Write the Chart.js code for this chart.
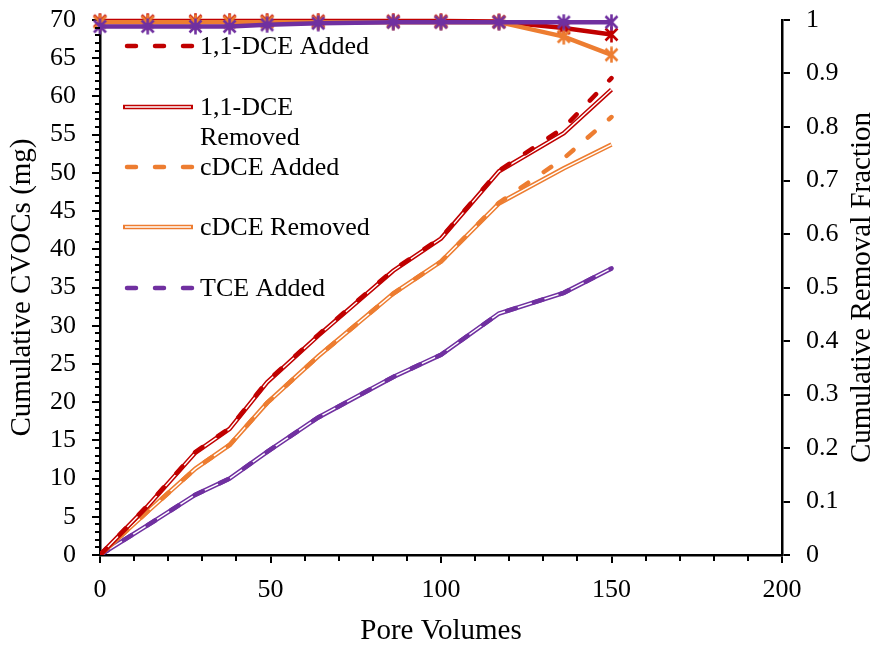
<!DOCTYPE html>
<html>
<head>
<meta charset="utf-8">
<script src="https://cdn.jsdelivr.net/npm/chart.js@4.4.0/dist/chart.umd.min.js"></script>
<style>
  html, body { margin: 0; padding: 0; background: #fff; }
  #wrap { width: 881px; height: 646px; position: relative; }
</style>
</head>
<body>
<div id="wrap"><canvas id="chart"></canvas></div>
<script>
// --- Data ---
const poreVolumes   = [0, 14, 28, 38, 49, 64, 86, 100, 117, 136, 150];
const dce11Added    = [0, 6.5, 13.5, 16.6, 22.7, 28.8, 37.3, 41.5, 50.3, 55.9, 62.4];
const dce11Removed  = [0, 6.4, 13.4, 16.5, 22.6, 28.7, 37.2, 41.4, 50.2, 55.2, 60.9];
const cdceAdded     = [0, 5.7, 11.3, 14.4, 19.9, 26.0, 34.2, 38.4, 46.1, 51.9, 57.3];
const cdceRemoved   = [0, 5.7, 11.3, 14.4, 19.9, 26.0, 34.2, 38.4, 46.0, 50.6, 53.7];
const tceAdded      = [0, 3.9, 7.9, 10.0, 13.5, 18.0, 23.3, 26.2, 31.6, 34.3, 37.5];
const tceRemoved    = [0, 3.9, 7.9, 10.0, 13.5, 18.0, 23.3, 26.2, 31.6, 34.3, 37.5];
const dce11Fraction = [0.998, 0.998, 0.998, 0.998, 0.998, 0.998, 0.998, 0.998, 0.997, 0.985, 0.973];
const cdceFraction  = [0.996, 0.996, 0.996, 0.996, 0.996, 0.996, 0.996, 0.996, 0.996, 0.969, 0.935];
const tceFraction   = [0.988, 0.988, 0.988, 0.988, 0.991, 0.994, 0.996, 0.996, 0.996, 0.996, 0.996];

const legendLabels = ['1,1-DCE Added', ['1,1-DCE', 'Removed'], 'cDCE Added', 'cDCE Removed', 'TCE Added'];

const RED = '#C00000', ORANGE = '#ED7D31', PURPLE = '#7030A0';
const SERIF = '"Liberation Serif", "Times New Roman", serif';
const DASH = [9, 19];

const pts = ys => poreVolumes.map((x, i) => ({ x, y: ys[i] }));

// Excel style asterisk marker
function star(color) {
    const c = document.createElement('canvas');
    c.width = 17; c.height = 17;
    const g = c.getContext('2d');
    g.strokeStyle = color; g.lineWidth = 2.6;
    g.beginPath();
    g.moveTo(2.5, 2.5); g.lineTo(14.5, 14.5);
    g.moveTo(14.5, 2.5); g.lineTo(2.5, 14.5);
    g.moveTo(8.5, 0.5); g.lineTo(8.5, 16.5);
    g.stroke();
    return c;
}

function dashed(label, ys, color, order) {
    return { label, data: pts(ys), yAxisID: 'y', borderColor: color, borderWidth: 4.5,
             borderDash: DASH, borderCapStyle: 'round', pointRadius: 0, order };
}
function doubleLine(label, ys, color, order) {
    return [
        { label, data: pts(ys), yAxisID: 'y', borderColor: color, borderWidth: 4.5, pointRadius: 0, order: order + 1 },
        { label: label + ' core', data: pts(ys), yAxisID: 'y', borderColor: '#fff', borderWidth: 1.4, pointRadius: 0, order }
    ];
}
function fraction(label, ys, color, order) {
    return { label, data: pts(ys), yAxisID: 'y2', borderColor: color, backgroundColor: color,
             borderWidth: 4.5, pointStyle: star(color), pointRadius: 8, clip: false, order };
}

// lower order is drawn on top
const datasets = [
    fraction('TCE Fraction', tceFraction, PURPLE, 0),
    fraction('cDCE Fraction', cdceFraction, ORANGE, 1),
    fraction('1,1-DCE Fraction', dce11Fraction, RED, 2),
    dashed('1,1-DCE Added', dce11Added, RED, 3),
    ...doubleLine('1,1-DCE Removed', dce11Removed, RED, 4),
    dashed('cDCE Added', cdceAdded, ORANGE, 6),
    ...doubleLine('cDCE Removed', cdceRemoved, ORANGE, 7),
    dashed('TCE Added', tceAdded, PURPLE, 9),
    ...doubleLine('TCE Removed', tceRemoved, PURPLE, 10)
];

// minor tick marks, legend and right title drawn on top
const extras = {
    id: 'extras',
    afterDraw(chart) {
        const ctx = chart.ctx;
        const { x, y, y2 } = chart.scales;
        ctx.save();
        ctx.strokeStyle = '#000';
        ctx.lineWidth = 2;
        ctx.beginPath();
        for (let v = 1; v < 70; v++) {
            if (v % 5 === 0) continue;
            const py = Math.round(y.getPixelForValue(v));
            ctx.moveTo(y.right, py); ctx.lineTo(y.right - 5, py);
        }
        for (let v = 10; v < 200; v += 10) {
            if (v % 50 === 0) continue;
            const px = Math.round(x.getPixelForValue(v));
            ctx.moveTo(px, x.top); ctx.lineTo(px, x.top + 6);
        }
        ctx.stroke();

        // legend
        const rows = [
            { y: 46, color: RED, dash: true },
            { y: 107, color: RED, dash: false },
            { y: 167, color: ORANGE, dash: true },
            { y: 227, color: ORANGE, dash: false },
            { y: 288, color: PURPLE, dash: true }
        ];
        ctx.font = '26px ' + SERIF;
        ctx.fillStyle = '#000';
        ctx.textBaseline = 'alphabetic';
        ctx.textAlign = 'left';
        rows.forEach((r, i) => {
            ctx.save();
            ctx.strokeStyle = r.color;
            ctx.lineWidth = 4.5;
            if (r.dash) { ctx.setLineDash(DASH); ctx.lineCap = 'round'; }
            ctx.beginPath(); ctx.moveTo(r.dash ? 127 : 123, r.y); ctx.lineTo(193, r.y); ctx.stroke();
            if (!r.dash) {
                ctx.strokeStyle = '#fff'; ctx.lineWidth = 1.4;
                ctx.beginPath(); ctx.moveTo(125, r.y); ctx.lineTo(191, r.y); ctx.stroke();
            }
            ctx.restore();
            const lab = [].concat(legendLabels[i]);
            lab.forEach((t, k) => ctx.fillText(t, 200, r.y + 8 + k * 30));
        });

        // right axis title, reading bottom to top
        ctx.translate(862, (y2.top + y2.bottom) / 2);
        ctx.rotate(-Math.PI / 2);
        ctx.font = '29px ' + SERIF;
        ctx.textAlign = 'center';
        ctx.textBaseline = 'middle';
        ctx.fillText('Cumulative Removal Fraction', 0, 0);
        ctx.restore();
    }
};

const axisFont = { family: SERIF, size: 26 };
const titleFont = { family: SERIF, size: 29, lineHeight: 1 };
const gridOpts = { drawOnChartArea: false, color: '#000', lineWidth: 2, tickLength: 8 };
const borderOpts = { color: '#000', width: 2.5 };

const fixV = w => s => { s.width = w; s.paddingTop = 0; s.paddingBottom = 0; };

new Chart(document.getElementById('chart'), {
    type: 'line',
    data: { datasets },
    options: {
        responsive: true, maintainAspectRatio: false, animation: false,
        layout: { padding: { top: 20, left: 0, right: 0, bottom: 0 } },
        elements: { line: { tension: 0 } },
        plugins: { legend: { display: false }, tooltip: { enabled: false } },
        scales: {
            x: {
                type: 'linear', min: 0, max: 200,
                border: borderOpts, grid: gridOpts,
                ticks: { stepSize: 50, color: '#000', font: axisFont, padding: 12, maxRotation: 0 },
                title: { display: true, text: 'Pore Volumes', color: '#000', font: titleFont, padding: { top: 0, bottom: 0 } },
                afterFit: s => { s.height = 91; s.paddingLeft = 0; s.paddingRight = 0; }
            },
            y: {
                position: 'left', min: 0, max: 70,
                border: borderOpts, grid: gridOpts,
                ticks: { stepSize: 5, color: '#000', font: axisFont, padding: 16 },
                title: { display: true, text: 'Cumulative CVOCs (mg)', color: '#000', font: titleFont, padding: { top: 8, bottom: 0 } },
                afterFit: fixV(100)
            },
            y2: {
                position: 'right', min: 0, max: 1,
                border: borderOpts, grid: gridOpts,
                ticks: { stepSize: 0.1, color: '#000', font: axisFont, padding: 16, callback: v => String(+v.toFixed(1)) },
                afterFit: fixV(99)
            }
        }
    },
    plugins: [extras]
});
</script>
</body>
</html>
